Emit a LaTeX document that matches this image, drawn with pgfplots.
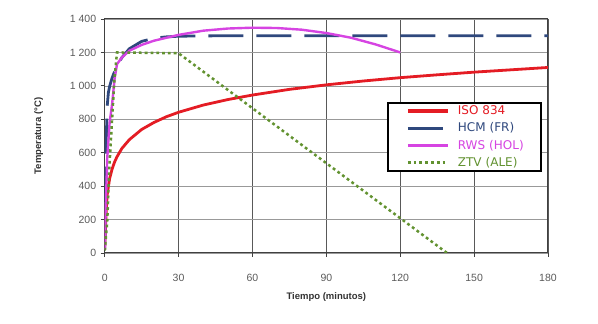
\documentclass[border=0pt]{standalone}
\usepackage{pgfplots}
\pgfplotsset{compat=1.18}
\usepackage{fontspec}
\setmainfont{Liberation Sans}
\newfontfamily\legfont{DejaVu Sans}
\definecolor{isored}{RGB}{228,28,36}
\definecolor{hcmblue}{RGB}{47,72,125}
\definecolor{rwsmag}{RGB}{214,68,226}
\definecolor{ztvgreen}{RGB}{98,146,48}
\definecolor{ticktext}{RGB}{90,90,90}
\begin{document}
\begin{tikzpicture}
\useasboundingbox (-104.7pt,-71pt) rectangle (493.3pt,253pt);
\begin{axis}[
  at={(0pt,0pt)}, anchor=south west,
  scale only axis, width=443.3pt, height=234pt,
  xmin=0, xmax=180, ymin=0, ymax=1400,
  xtick={0,30,...,180}, ytick={0,200,...,1400},
  grid=major,
  x grid style={draw=black!65, line width=0.7pt},
  y grid style={draw=black!40, line width=0.6pt},
  axis line style={draw=black!75, line width=1pt},
  tick style={draw=black!75, line width=0.8pt},
  tick align=outside, major tick length=4pt,
  xtick pos=bottom, ytick pos=left,
  /pgf/number format/assume math mode=true,
  /pgf/number format/1000 sep={\ },
  ticklabel style={font=\fontsize{10.5}{12}\selectfont, text=ticktext},
  xticklabel style={yshift=-14pt},
  yticklabel style={xshift=-1pt},
  xlabel={\textbf{Tiempo (minutos)}},
  ylabel={\textbf{Temperatura (°C)}},
  label style={font=\fontsize{9.5}{11}\selectfont, text=black!80},
  xlabel style={yshift=-4pt},
  ylabel style={yshift=20pt},
  legend style={at={(0.637,0.645)}, anchor=north west,
    draw=black, line width=1.6pt, fill=white,
    font=\legfont\fontsize{12}{14}\selectfont,
    row sep=2.6pt, inner xsep=2pt, inner ysep=1pt,
    text width=79pt},
  legend cell align=left,
  legend image code/.code={\path[draw=none] (0pt,0pt) -- (66pt,0pt);
     \draw[#1, line width=3.2pt] (18pt,0pt) -- (58pt,0pt);},
]
\addplot[isored, line width=2.8pt] coordinates {
 (0,20) (0.5,213) (1,349) (2,445) (3,502) (4,544) (5,576) (7,626) (10,678)
 (15,739) (20,781) (25,815) (30,842) (40,885) (50,918) (60,945) (75,979)
 (90,1006) (105,1029) (120,1049) (135,1066) (150,1082) (165,1096) (180,1110)};
\addlegendentry{\textcolor{isored}{ISO 834}}
\addplot[hcmblue, line width=2.8pt, dash pattern=on 35pt off 13pt] coordinates {
 (0,20) (0.5,600) (1,877) (1.5,960) (2,997) (3,1047) (4,1085) (5,1119) (7,1170)
 (10,1222) (15,1266) (20,1285) (25,1293) (30,1297) (40,1299) (60,1300)
 (90,1300) (120,1300) (150,1300) (180,1300)};
\addlegendentry{\textcolor{hcmblue}{HCM (FR)}}
\addplot[rwsmag, line width=2.4pt] coordinates {
 (0,20) (0.5,300) (1,560) (2,780) (3,890) (4,1040) (5,1130) (7,1170) (10,1210)
 (15,1245) (20,1270) (30,1305) (40,1330) (50,1343) (60,1348) (70,1346)
 (80,1336) (90,1316) (100,1288) (110,1248) (120,1200)};
\addlegendentry{\textcolor{rwsmag}{RWS (HOL)}}
\addplot[ztvgreen, line width=2.5pt, dash pattern=on 2.8pt off 3pt] coordinates {
 (0,15) (1,180) (2,540) (3,800) (4,1050) (5,1200) (30,1195) (139,0)};
\addlegendentry{\textcolor{ztvgreen}{ZTV (ALE)}}
\end{axis}
\end{tikzpicture}
\end{document}
